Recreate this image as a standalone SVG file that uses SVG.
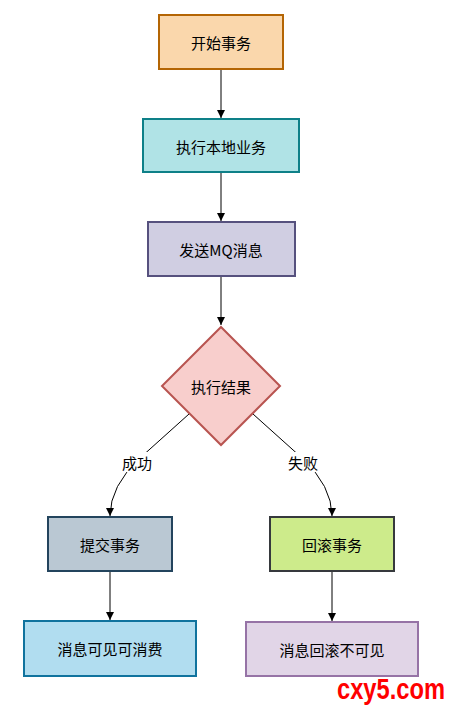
<svg xmlns="http://www.w3.org/2000/svg" width="454" height="708" viewBox="0 0 454 708">
<style>
text{font-family:"Noto Sans CJK SC","Noto Sans",sans-serif;font-size:15px;fill:#000;text-anchor:middle;dominant-baseline:central}
.n{stroke-width:2}
.e{fill:none;stroke:#000;stroke-width:1}
.lbl{fill:#fff}
</style>
<defs>
<marker id="a" markerWidth="10" markerHeight="10" refX="8" refY="5" orient="auto" markerUnits="userSpaceOnUse">
<path d="M0,1 L8,5 L0,9 Z" fill="#000"/>
</marker>
</defs>
<rect width="454" height="708" fill="#fff"/>
<g id="edges">
<path class="e" d="M221,69 L221,118" marker-end="url(#a)"/>
<path class="e" d="M221,172 L221,221" marker-end="url(#a)"/>
<path class="e" d="M221,276 L221,325" marker-end="url(#a)"/>
<path class="e" d="M189,414 L140,458 Q110,486 110,516" marker-end="url(#a)"/>
<path class="e" d="M253,414 L302,458 Q332,486 332,516" marker-end="url(#a)"/>
<path class="e" d="M110,571 L110,620" marker-end="url(#a)"/>
<path class="e" d="M332,571 L332,621" marker-end="url(#a)"/>
<rect class="lbl" x="116" y="452" width="42" height="20"/>
<text x="137" y="462">成功</text>
<rect class="lbl" x="283" y="452" width="40" height="20"/>
<text x="303" y="462">失败</text>
</g>
<g id="start">
<rect class="n" x="159" y="15" width="124" height="54" fill="#fad7ac" stroke="#b46504"/>
<text x="221" y="42">开始事务</text>
</g>
<g id="local">
<rect class="n" x="143" y="119" width="156" height="53" fill="#b0e3e6" stroke="#0e8088"/>
<text x="221" y="146">执行本地业务</text>
</g>
<g id="send">
<rect class="n" x="148" y="222" width="147" height="54" fill="#d0cee2" stroke="#56517e"/>
<text x="221" y="249">发送MQ消息</text>
</g>
<g id="decision">
<path class="n" d="M221,327 L280,386 L221,445 L162,386 Z" fill="#f8cecc" stroke="#b85450"/>
<text x="221" y="386">执行结果</text>
</g>
<g id="commit">
<rect class="n" x="48" y="517" width="124" height="54" fill="#bac8d3" stroke="#23445d"/>
<text x="110" y="544">提交事务</text>
</g>
<g id="visible">
<rect class="n" x="24" y="621" width="172" height="55" fill="#b1ddf0" stroke="#10739e"/>
<text x="110" y="648">消息可见可消费</text>
</g>
<g id="rollback">
<rect class="n" x="270" y="517" width="124" height="54" fill="#cdeb8b" stroke="#36393d"/>
<text x="332" y="544">回滚事务</text>
</g>
<g id="invisible">
<rect class="n" x="246" y="622" width="172" height="54" fill="#e1d5e7" stroke="#9673a6"/>
<text x="332" y="649">消息回滚不可见</text>
</g>
<text x="391" y="688" style="font-family:'Liberation Sans Narrow','Liberation Sans',sans-serif;font-size:30px;font-weight:bold;fill:#f00" textLength="108" lengthAdjust="spacingAndGlyphs">cxy5.com</text>
</svg>
